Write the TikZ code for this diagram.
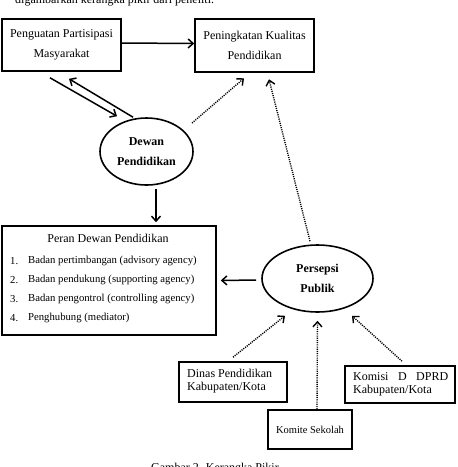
\documentclass[tikz,border=0pt]{standalone}
\usepackage{fontspec}
\setmainfont{Liberation Serif}
\usetikzlibrary{arrows.meta,shapes.geometric}
\begin{document}
\begin{tikzpicture}[x=1pt,y=-1pt]
    \tikzstyle{box}=[rectangle,draw,line width=1.6pt,inner sep=0pt,font=\fontsize{12}{20}\selectfont,align=center]
    \tikzstyle{oval}=[ellipse,draw,line width=1.6pt,inner sep=0pt,font=\fontsize{12}{20}\selectfont\bfseries,align=center]
    \tikzstyle{txt}=[inner sep=0pt,font=\fontsize{12}{13}\selectfont]
    \tikzstyle{small}=[inner sep=0pt,font=\fontsize{10.7}{13}\selectfont]
    \tikzstyle{arr}=[line width=1.5pt,-{Straight Barb[length=5pt,width=9pt]}]
    \tikzstyle{dotarr}=[line width=1.4pt,dash pattern=on 1.1pt off 1.1pt,-{Straight Barb[length=5pt,width=9pt]}]
    \useasboundingbox (0,0) rectangle (458,467);

    \node[txt,anchor=base west] (intro) at (15,3.5) {digambarkan kerangka pikir dari peneliti.};
    \node[txt,anchor=base west] (caption) at (151,471) {Gambar 2. Kerangka Pikir};

    \node[box,minimum width=119,minimum height=52] (partisipasi) at (61.5,45) {Penguatan Partisipasi\\Masyarakat};
    \node[box,minimum width=119,minimum height=53] (kualitas) at (254.5,45.5) {Peningkatan Kualitas\\Pendidikan};
    \node[oval,minimum width=93,minimum height=67] (dewan) at (146.5,151.5) {Dewan\\Pendidikan};
    \node[oval,minimum width=111,minimum height=67] (persepsi) at (317.5,278.5) {Persepsi\\Publik};

    \node[box,minimum width=214,minimum height=109] (peran) at (109,280.5) {};
    \node[txt] (perantitle) at (108,238) {Peran Dewan Pendidikan};
    \foreach \i/\t/\y in {1/Badan pertimbangan (advisory agency)/261,
                          2/Badan pendukung (supporting agency)/280,
                          3/Badan pengontrol (controlling agency)/299,
                          4/Penghubung (mediator)/318}{
        \node[small,anchor=west] (num\i) at (10,\y) {\i.};
        \node[small,anchor=west] (item\i) at (28,\y) {\t};
    }

    \node[box,minimum width=108,minimum height=40] (dinas) at (233,382) {};
    \node[txt,anchor=west,align=left] (dinastext) at (187,381) {Dinas Pendidikan\\Kabupaten/Kota};
    \node[box,minimum width=84,minimum height=39,font=\fontsize{10.5}{13}\selectfont] (komite) at (310,429.5) {Komite Sekolah};
    \node[box,minimum width=110,minimum height=37] (komisi) at (400,384.5) {};
    \node[txt,anchor=west,align=left] (komisitext) at (353,384) {\makebox[95pt][s]{Komisi\hfill D\hfill DPRD}\\Kabupaten/Kota};

    \draw[arr] ([shift={(0,-2)}]partisipasi.east) -- ([shift={(0,-2)}]kualitas.west);
    \draw[arr] ([shift={(-11.5,6)}]partisipasi.south) -- ([shift={(-29.5,-1)}]dewan.north);
    \draw[arr] ([shift={(-13.5,0)}]dewan.north) -- ([shift={(7.5,7)}]partisipasi.south);
    \draw[dotarr] ([shift={(45.5,-28.5)}]dewan.center) -- ([shift={(-10.5,5.5)}]kualitas.south);
    \draw[dotarr] ([shift={(-7.5,-3)}]persepsi.north) -- ([shift={(14.5,6.5)}]kualitas.south);
    \draw[arr] ([shift={(9.5,3)}]dewan.south) -- ([shift={(47,-3)}]peran.north);
    \draw[arr] ([shift={(-5,1.5)}]persepsi.west) -- ([shift={(4,0)}]peran.east);
    \draw[dotarr] ([shift={(0,-4)}]dinas.north) -- ([shift={(-32.5,3)}]persepsi.south);
    \draw[dotarr] ([shift={(7,0)}]komite.north) -- ([shift={(0,8)}]persepsi.south);
    \draw[dotarr] ([shift={(2,-4)}]komisi.north) -- ([shift={(34.5,3)}]persepsi.south);

\end{tikzpicture}
\end{document}
